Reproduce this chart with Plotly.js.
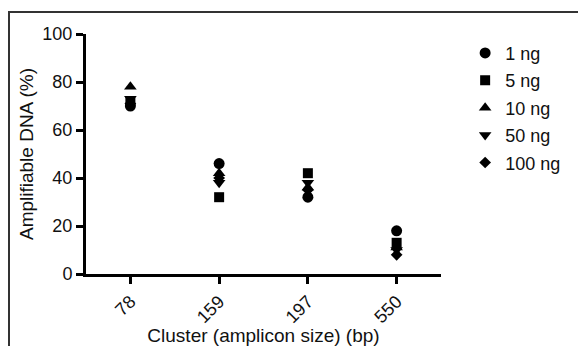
<!DOCTYPE html>
<html>
<head>
<meta charset="utf-8">
<script src="https://cdn.plot.ly/plotly-3.0.1.min.js"></script>
<style>
html,body{margin:0;padding:0;background:#fff;}
#wrap{position:absolute;left:0;top:0;width:578px;height:346px;overflow:hidden;}
#frame{position:absolute;left:8px;top:11px;width:578px;height:346px;border-top:2px solid #333;border-left:2px solid #333;box-sizing:border-box;pointer-events:none;z-index:5;}
#chart{position:absolute;left:0;top:0;width:578px;height:346px;}
</style>
</head>
<body>
<div id="wrap">
<div id="chart"></div>
<div id="frame"></div>
</div>
<script>
const categories = ["78", "159", "197", "550"];
const seriesNames = ["1 ng", "5 ng", "10 ng", "50 ng", "100 ng"];
const v1ng   = [70, 46, 32, 18];
const v5ng   = [72, 32, 42, 13];
const v10ng  = [78, 42, 36, 11];
const v50ng  = [73, 38, 38, 10];
const v100ng = [71, 40, 35, 8];
const symbols = ["circle", "square", "triangle-up", "triangle-down", "diamond"];
const sizes = [11, 10, 11, 11, 9];

const allValues = [v1ng, v5ng, v10ng, v50ng, v100ng];
const traces = allValues.map((vals, i) => ({
  type: "scatter",
  mode: "markers",
  x: categories,
  y: vals,
  name: seriesNames[i],
  legendgroup: "g" + i,
  marker: {symbol: symbols[i], size: sizes[i], color: "#000"},
  cliponaxis: false
}));

const layout = {
  width: 578, height: 346,
  margin: {l: 86, r: 130, t: 34, b: 72},
  paper_bgcolor: "#fff", plot_bgcolor: "#fff",
  font: {family: "Liberation Sans, Arial, sans-serif", color: "#111", size: 18},
  showlegend: true,
  legend: {
    x: 1.068, xanchor: "left", y: 0.997, yanchor: "top",
    font: {size: 18, color: "#111"},
    tracegroupgap: 1,
    itemwidth: 30,
    bgcolor: "rgba(0,0,0,0)"
  },
  xaxis: {
    type: "category",
    range: [-0.5, 3.5],
    showline: true, linecolor: "#000", linewidth: 3,
    ticks: "outside", ticklen: 7, tickwidth: 3, tickcolor: "#000",
    tickangle: -45,
    tickfont: {size: 18},
    showgrid: false, zeroline: false,
    title: {text: "Cluster (amplicon size) (bp)", font: {size: 19}, standoff: 2}
  },
  yaxis: {
    range: [0, 100],
    tickvals: [0, 20, 40, 60, 80, 100],
    showline: true, linecolor: "#000", linewidth: 3,
    ticks: "outside", ticklen: 7, tickwidth: 3, tickcolor: "#000",
    tickfont: {size: 18},
    showgrid: false, zeroline: false,
    title: {text: "Amplifiable DNA (%)", font: {size: 19}, standoff: 4}
  }
};

Plotly.newPlot("chart", traces, layout, {staticPlot: true, displayModeBar: false});
</script>
</body>
</html>
